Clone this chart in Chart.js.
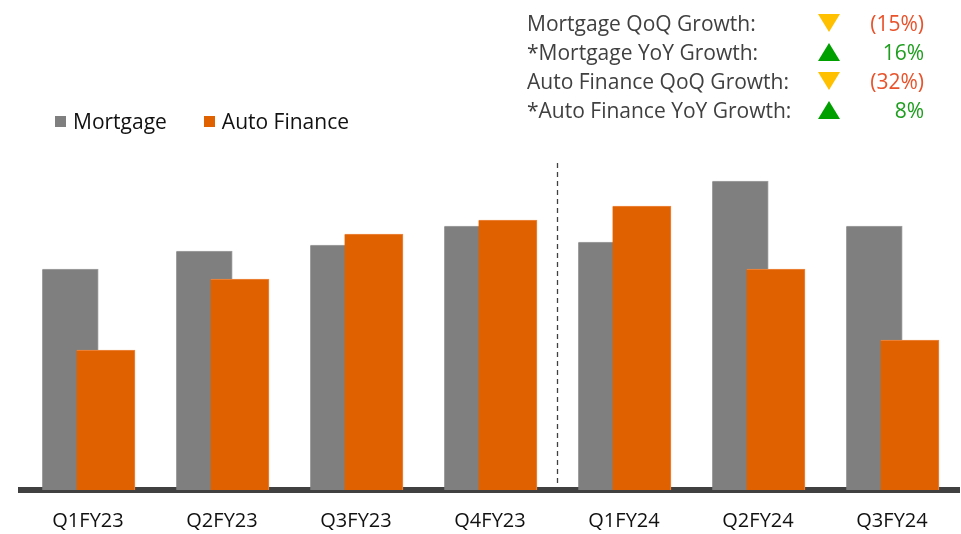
<!DOCTYPE html>
<html>
<head>
<meta charset="utf-8">
<script src="https://cdn.jsdelivr.net/npm/chart.js@4.4.1/dist/chart.umd.min.js"></script>
<style>
  html, body { margin: 0; padding: 0; background: #fff; }
  #wrap { position: relative; width: 961px; height: 534px; font-family: 'Open Sans', sans-serif; }
  #wrap canvas { position: absolute; left: 0; top: 0; }
  #legend { position: absolute; left: 55px; top: 107px; display: flex; align-items: center; font-size: 21px; line-height: 29px; color: #111; }
  .lg-item { display: flex; align-items: center; margin-right: 37px; }
  .lg-box { width: 11px; height: 11px; margin-right: 7px; }
  #growth { position: absolute; left: 527px; top: 8px; font-size: 21px; color: #404040; }
  .g-row { display: flex; align-items: center; height: 29px; }
  .g-label { width: 291px; white-space: nowrap; }
  .g-tri { width: 0; height: 0; border-left: 11px solid transparent; border-right: 11px solid transparent; }
  .g-tri.down { border-top: 18px solid #ffc000; }
  .g-tri.up { border-bottom: 18px solid #00a000; }
  .g-val { width: 84px; text-align: right; }
  .g-val.neg { color: #e9532b; }
  .g-val.pos { color: #1e9e1e; }
</style>
</head>
<body>
<div id="wrap">
  <canvas id="chart" width="961" height="534"></canvas>
  <div id="legend"></div>
  <div id="growth"></div>
</div>
<script>
const quarters = ['Q1FY23', 'Q2FY23', 'Q3FY23', 'Q4FY23', 'Q1FY24', 'Q2FY24', 'Q3FY24'];
const mortgage = [221, 239, 245, 264, 248, 309, 264];
const autoFinance = [140, 211, 256, 270, 284, 221, 150];

// FY23 | FY24 split marker
const dividerAfter = 3;
const dividerTop = 327;

const growthLabels = ['Mortgage QoQ Growth:', '*Mortgage YoY Growth:', 'Auto Finance QoQ Growth:', '*Auto Finance YoY Growth:'];
const growthValues = ['(15%)', '16%', '(32%)', '8%'];
const growthUp = [false, true, false, true];

const GREY = '#7f7f7f';
const ORANGE = '#df6100';
const SHIFT = 0.1325; // bars in a pair overlap, offset from the quarter centre

Chart.defaults.font.family = "'Open Sans', sans-serif";

const fyDivider = {
  id: 'fyDivider',
  beforeDatasetsDraw(chart) {
    const { ctx, scales: { x, y } } = chart;
    const px = Math.round(x.getPixelForValue(dividerAfter + 0.5)) + 0.5;
    ctx.save();
    ctx.strokeStyle = '#404040';
    ctx.lineWidth = 1.3;
    ctx.setLineDash([5, 4]);
    ctx.beginPath();
    ctx.moveTo(px, y.getPixelForValue(dividerTop));
    ctx.lineTo(px, y.getPixelForValue(0));
    ctx.stroke();
    ctx.restore();
  }
};

const chart = new Chart(document.getElementById('chart'), {
  type: 'bar',
  data: {
    datasets: [
      { label: 'Mortgage', data: mortgage.map((v, i) => ({ x: i - SHIFT, y: v })),
        backgroundColor: GREY, borderColor: '#a3a3a3',
        borderWidth: { top: 1, right: 1, left: 0, bottom: 0 },
        barThickness: 56, order: 2 },
      { label: 'Auto Finance', data: autoFinance.map((v, i) => ({ x: i + SHIFT, y: v })),
        backgroundColor: ORANGE, borderColor: '#ef8a45',
        borderWidth: { top: 1, right: 1, left: 0, bottom: 0 },
        barThickness: 58.5, order: 1 }
    ]
  },
  options: {
    responsive: false,
    animation: false,
    grouped: false,
    layout: { padding: { left: 21, right: 2, top: 150, bottom: 0 } },
    plugins: { legend: { display: false }, tooltip: { enabled: false } },
    scales: {
      x: {
        type: 'linear',
        offset: false,
        min: -0.5,
        max: quarters.length - 0.5,
        z: 1,
        grid: { display: false, drawTicks: false },
        border: { display: true, color: '#404040', width: 6 },
        afterBuildTicks: s => { s.ticks = quarters.map((_, i) => ({ value: i })); },
        afterFit: s => { s.height = 44; },
        ticks: { color: '#111', padding: 19, font: { size: 20 }, callback: v => quarters[v] }
      },
      y: { display: false, min: 0, max: 340 }
    }
  },
  plugins: [fyDivider]
});

// legend built from the datasets
document.getElementById('legend').innerHTML = chart.data.datasets.map(d =>
  `<div class="lg-item"><div class="lg-box" style="background:${d.backgroundColor}"></div>${d.label}</div>`
).join('');

document.getElementById('growth').innerHTML = growthLabels.map((t, i) => `
  <div class="g-row">
    <div class="g-label">${t}</div>
    <div class="g-tri ${growthUp[i] ? 'up' : 'down'}"></div>
    <div class="g-val ${growthUp[i] ? 'pos' : 'neg'}">${growthValues[i]}</div>
  </div>`).join('');
</script>
</body>
</html>
